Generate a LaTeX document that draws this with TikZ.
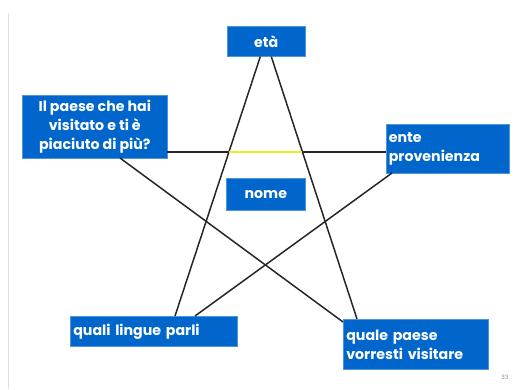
\documentclass[tikz,border=0pt]{standalone}
\usepackage{fontspec}
\setmainfont{Poppins}[BoldFont={Poppins Bold}]
\definecolor{boxblue}{RGB}{0,102,204}
\definecolor{hl}{RGB}{230,240,40}
\begin{document}
\begin{tikzpicture}[x=1pt,y=-1pt,
  qbox/.style={fill=boxblue,draw=boxblue!70!white,line width=0.6pt,text=white,font=\fontsize{14.2}{19}\selectfont\bfseries,inner sep=0pt,anchor=north west},
  link/.style={line width=1.5pt,draw=black!85}]
\useasboundingbox (0,0) rectangle (518,389);
\draw[black!12,line width=1pt] (8,13) -- (8,389);
% boxes
\node[qbox,minimum width=78pt,minimum height=30pt] (eta) at (227,26) {età};
\node[qbox,minimum width=145pt,minimum height=63pt,align=center] (paese) at (22,95) {Il paese che hai\\visitato e ti è\\piaciuto di più?};
\node[qbox,minimum width=123pt,minimum height=49pt,align=left,text width=118pt] (ente) at (386,124) {ente\\provenienza};
\node[qbox,minimum width=79pt,minimum height=32pt] (nome) at (226,178) {nome};
\node[qbox,minimum width=167pt,minimum height=30pt,align=left,text width=161pt] (lingue) at (70,316) {quali lingue parli};
\node[qbox,minimum width=145pt,minimum height=50pt,align=left,text width=139pt] (visitare) at (343,319) {quale paese\\vorresti visitare};
\node[text=black!45,font=\fontsize{6}{7}\selectfont] (pg) at (505,377) {33};
% connection points
\coordinate (e1) at ([xshift=-6pt]eta.south);
\coordinate (e2) at ([xshift=5pt]eta.south);
\coordinate (l1) at (175,316);
\coordinate (l2) at (195,316);
\coordinate (v1) at (357,319);
\coordinate (v2) at (343,322);
\coordinate (p1) at (167,152);
\coordinate (p2) at (120,158);
\coordinate (n1) at (386,152);
\coordinate (n2) at (392,173);
\coordinate (y1) at (228.6,152);
\coordinate (y2) at (302.4,152);
\draw[link] (e1) -- (l1);
\draw[link] (e2) -- (v1);
\draw[link] (p2) -- (v2);
\draw[link] (n2) -- (l2);
\draw[link] (p1) -- (y1);
\draw[link,draw=hl] (y1) -- (y2);
\draw[link] (y2) -- (n1);
\end{tikzpicture}
\end{document}
